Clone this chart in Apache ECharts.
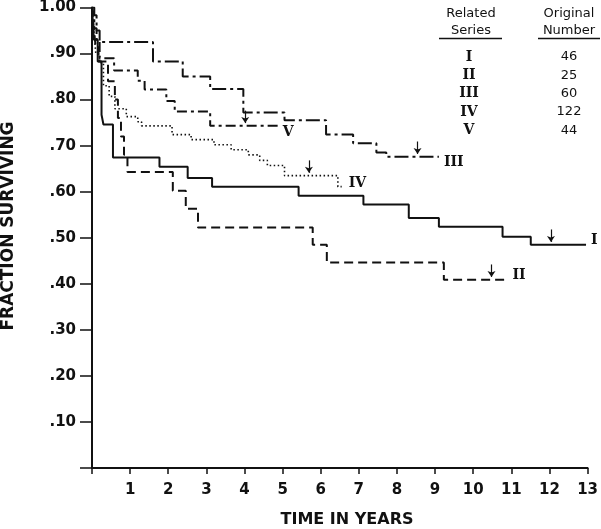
<!DOCTYPE html>
<html><head><meta charset="utf-8">
<script src="https://cdn.jsdelivr.net/npm/echarts@6/dist/echarts.min.js"></script>
<style>html,body{margin:0;padding:0;background:#fff}#c{width:601px;height:529px}</style>
</head><body><div id="c"></div>
<script>
// ---- data ----
const seriesNames = ['I', 'II', 'III', 'IV', 'V'];
const originalNumbers = [46, 25, 60, 122, 44];

const tI  = [0, 0.05, 0.15, 0.25, 0.3, 0.55, 1.77, 2.51, 3.15, 5.42, 7.12, 8.31, 9.10, 10.77, 11.51, 12.96];
const sI  = [1.0, 0.93, 0.883, 0.767, 0.746, 0.674, 0.654, 0.630, 0.611, 0.591, 0.572, 0.543, 0.524, 0.502, 0.485, 0.485];

const tII = [0, 0.04, 0.09, 0.17, 0.42, 0.6, 0.68, 0.76, 0.84, 0.93, 2.12, 2.46, 2.78, 5.79, 6.16, 9.23, 10.9];
const sII = [1.0, 0.96, 0.92, 0.883, 0.84, 0.80, 0.76, 0.72, 0.68, 0.643, 0.602, 0.563, 0.522, 0.485, 0.446, 0.409, 0.409];

const tIII = [0, 0.05, 0.12, 0.2, 1.6, 2.38, 3.1, 3.97, 5.05, 6.14, 6.85, 7.46, 7.72, 9.1];
const sIII = [1.0, 0.983, 0.95, 0.925, 0.883, 0.85, 0.823, 0.772, 0.755, 0.724, 0.705, 0.685, 0.676, 0.676];

const tIV = [0, 0.05, 0.1, 0.2, 0.3, 0.45, 0.6, 0.9, 1.2, 1.3, 2.1, 2.6, 3.2, 3.65, 4.1, 4.4, 4.6, 5.05, 6.45, 6.55];
const sIV = [1.0, 0.95, 0.90, 0.88, 0.83, 0.807, 0.78, 0.763, 0.752, 0.743, 0.724, 0.713, 0.702, 0.691, 0.68, 0.668, 0.657, 0.635, 0.611, 0.611];

const tV = [0, 0.06, 0.12, 0.2, 0.58, 1.2, 1.38, 1.95, 2.17, 3.1, 4.87];
const sV = [1.0, 0.955, 0.93, 0.89, 0.863, 0.841, 0.822, 0.797, 0.774, 0.743, 0.743];

// censoring arrows (time in years)
const arrowT = [12.04, 10.48, 8.54, 5.69, 4.02];

const xTickLabels = ['', '1', '2', '3', '4', '5', '6', '7', '8', '9', '10', '11', '12', '13'];
const yTickLabels = ['', '.10', '.20', '.30', '.40', '.50', '.60', '.70', '.80', '.90', '1.00'];

const xTitle = 'TIME IN YEARS';
const yTitle = 'FRACTION SURVIVING';

// ---- build ----
const times = [tI, tII, tIII, tIV, tV];
const survs = [sI, sII, sIII, sIV, sV];
const dashes = ['solid', [9, 5], [14, 4, 3, 4], [1.5, 2.5], [10, 4, 3, 4]];
const widths = [2, 2, 2, 1.6, 2];
const labelOffsets = [[0, -4], [0, -4], [0, 6], [2, -3], [0, 7]];

function valueAt(t, s, x) {
  let v = s[0];
  for (let i = 0; i < t.length; i++) { if (t[i] <= x) v = s[i]; }
  return v;
}

const series = seriesNames.map((name, k) => {
  const data = times[k].map((t, i) => [t, survs[k][i]]);
  const av = valueAt(times[k], survs[k], arrowT[k]);
  return {
    name, type: 'line', step: 'end', data, showSymbol: false, silent: true,
    lineStyle: { color: '#111', width: widths[k], type: dashes[k] },
    endLabel: {
      show: true, formatter: '{a}', distance: 5, offset: labelOffsets[k],
      fontFamily: 'DejaVu Serif', fontWeight: 'bold', fontSize: 14, color: '#111'
    },
    markLine: {
      silent: true, symbol: ['none', 'arrow'], symbolSize: 6,
      label: { show: false },
      lineStyle: { color: '#111', width: 1.2, type: 'solid' },
      data: [[{ coord: [arrowT[k], av + 0.033] }, { coord: [arrowT[k], av + 0.006] }]]
    },
    animation: false
  };
});

const headFont = { fontFamily: 'DejaVu Sans', fontSize: 13, fill: '#111', align: 'center', verticalAlign: 'middle' };
const graphics = [
  { type: 'text', x: 471, y: 14, style: Object.assign({ text: 'Related' }, headFont) },
  { type: 'text', x: 471, y: 31, style: Object.assign({ text: 'Series' }, headFont) },
  { type: 'text', x: 569, y: 14, style: Object.assign({ text: 'Original' }, headFont) },
  { type: 'text', x: 569, y: 31, style: Object.assign({ text: 'Number' }, headFont) },
  { type: 'line', shape: { x1: 439, y1: 38.5, x2: 502, y2: 38.5 }, style: { stroke: '#111', lineWidth: 1.5 } },
  { type: 'line', shape: { x1: 538, y1: 38.5, x2: 600, y2: 38.5 }, style: { stroke: '#111', lineWidth: 1.5 } },
  { type: 'text', x: 347, y: 520, style: { text: xTitle, align: 'center', verticalAlign: 'middle',
      fontFamily: 'DejaVu Sans', fontWeight: 'bold', fontSize: 16, fill: '#111' } },
  { type: 'text', x: 9, y: 226, rotation: Math.PI / 2, style: { text: yTitle, align: 'center', verticalAlign: 'middle',
      fontFamily: 'DejaVu Sans', fontWeight: 'bold', fontSize: 17, fill: '#111' } }
];
seriesNames.forEach((n, i) => {
  graphics.push({ type: 'text', x: 469, y: 57 + i * 18.3,
    style: { text: n, align: 'center', verticalAlign: 'middle', fontFamily: 'DejaVu Serif', fontWeight: 'bold', fontSize: 14, fill: '#111' } });
  graphics.push({ type: 'text', x: 569, y: 57 + i * 18.3,
    style: { text: String(originalNumbers[i]), align: 'center', verticalAlign: 'middle', fontFamily: 'DejaVu Sans', fontSize: 13, fill: '#111' } });
});

const chart = echarts.init(document.getElementById('c'));
chart.setOption({
  animation: false,
  backgroundColor: '#fff',
  grid: { left: 92, right: 13, top: 6, bottom: 61, containLabel: false },
  xAxis: {
    type: 'value', min: 0, max: 13, interval: 1,
    axisLine: { lineStyle: { color: '#111', width: 2 } },
    axisTick: { show: true, length: 6, lineStyle: { color: '#111', width: 1.5 } },
    axisLabel: { margin: 15, fontFamily: 'DejaVu Sans', fontWeight: 'bold', fontSize: 15, color: '#111',
      formatter: v => xTickLabels[Math.round(v)] },
    splitLine: { show: false }
  },
  yAxis: {
    type: 'value', min: 0, max: 1, interval: 0.1,
    axisLine: { show: true, lineStyle: { color: '#111', width: 2 } },
    axisTick: { show: true, length: 12, lineStyle: { color: '#111', width: 1.5 } },
    axisLabel: { margin: 16, fontFamily: 'DejaVu Sans', fontWeight: 'bold', fontSize: 15, color: '#111',
      formatter: v => yTickLabels[Math.round(v * 10)] },
    splitLine: { show: false }
  },
  graphic: graphics,
  series
});
</script></body></html>
